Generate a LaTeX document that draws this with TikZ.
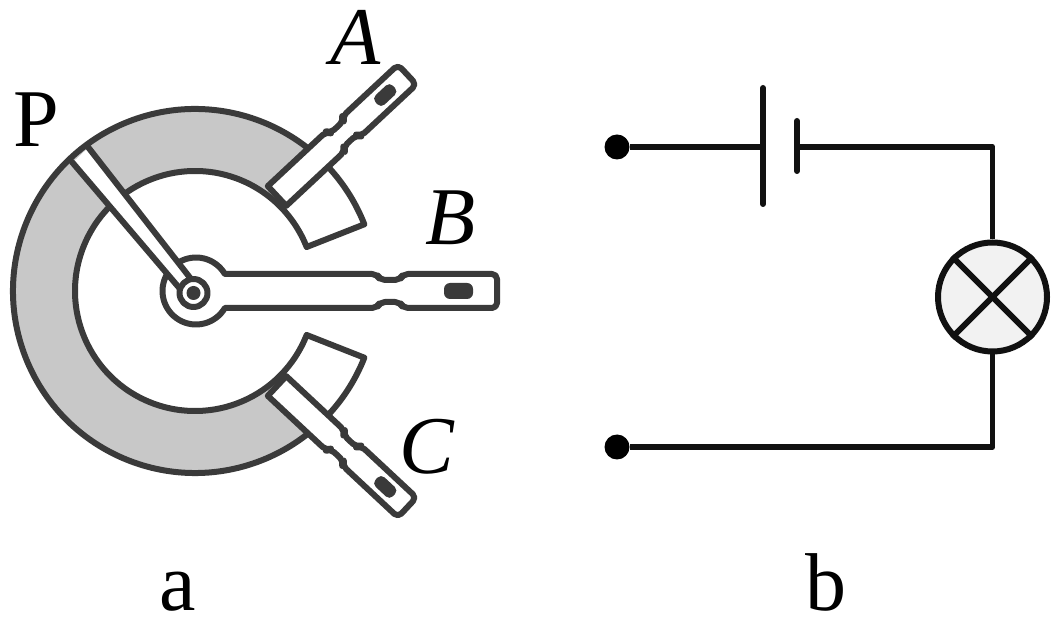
\documentclass[tikz,border=0pt]{standalone}
\usepackage{fontspec}
\setmainfont{Liberation Serif}
\definecolor{ink}{HTML}{3A3A3A}
\definecolor{wire}{HTML}{111111}
\definecolor{ringgray}{HTML}{C8C8C8}
\definecolor{lampfill}{HTML}{F2F2F2}
\tikzset{
    outline/.style={draw=ink, line width=3pt, line join=round},
    cable/.style={draw=wire, line width=2.9pt},
    plate/.style={draw=wire, line width=3pt, line cap=round},
    terminal/.style={circle, fill=black, inner sep=0pt, minimum size=12.5pt},
    lamp/.style={circle, draw=wire, fill=lampfill, line width=3pt, inner sep=0pt, minimum size=54.5pt},
    letter/.style={anchor=base, inner sep=0pt, font=\fontsize{41}{41}\selectfont},
    tab/.pic={
        \path[outline, fill=white] (0,-13.5) [rounded corners=2.5pt] -- (80,-13.5) -- (82,-9.5) -- (100,-9.5) -- (102,-13.5)
            -- (178,-13.5) -- (178,13.5) -- (102,13.5) -- (100,9.5) -- (82,9.5) -- (80,13.5) [sharp corners] -- (0,13.5) -- cycle;
        \fill[ink, rounded corners=2.5pt] (136,-6.5) rectangle (160,6.5);
    }
}
\begin{document}
\begin{tikzpicture}[x=0.5pt, y=0.5pt]
    \useasboundingbox (0,0) rectangle (1059,621);
    \def \Ro {182}
    \def \Ri {120}
    \coordinate (hub) at (195,330);
    \coordinate (boss) at (196,330);
    \coordinate (pivot) at (193.5,328);
    % ring
    \fill[ringgray] ([shift={(21.5:\Ro)}]hub) arc (21.5:338.5:\Ro) -- ([shift={(-21.5:\Ri)}]hub) arc (338.5:21.5:\Ri) -- cycle;
    \fill[white] ([shift={(21.5:\Ro)}]hub) arc (21.5:47:\Ro) -- ([shift={(47:\Ri)}]hub) arc (47:21.5:\Ri) -- cycle;
    \fill[white] ([shift={(-21.5:\Ro)}]hub) arc (-21.5:-47:\Ro) -- ([shift={(-47:\Ri)}]hub) arc (-47:-21.5:\Ri) -- cycle;
    \draw[outline] ([shift={(21.5:\Ro)}]hub) arc (21.5:338.5:\Ro) -- ([shift={(-21.5:\Ri)}]hub) arc (338.5:21.5:\Ri) -- cycle;
    % leads
    \pic[shift={(277,425)}, rotate=43] {tab};
    \pic[shift={(277,235)}, rotate=-43] {tab};
    \path[outline, fill=white] ([shift={(-30.5:33.5)}]boss) arc (-30.5:-329.5:33.5) [rounded corners=2.5pt] -- (377,347) -- (380,341) -- (400,341) -- (403,347)
        -- (497,347) -- (497,313) -- (403,313) -- (400,319) -- (380,319) -- (377,313) [sharp corners] -- cycle;
    \fill[ink, rounded corners=3pt] (444,322) rectangle (473,338);
    % slider
    \fill[white] (88,473) -- (191,342) -- (181,331) -- (72,458) -- cycle;
    \draw[outline, line cap=round] (88,474) -- (191,342);
    \draw[outline, line cap=round] (72,459) -- (181,331);
    \draw[outline, fill=white] (pivot) circle (14);
    \fill[ink] (pivot) circle (7);
    % circuit
    \node[terminal] (top) at (617,474) {};
    \node[terminal] (bottom) at (617,174) {};
    \node[lamp] (bulb) at (992.5,324) {};
    \coordinate (plateL) at (763,475);
    \coordinate (plateS) at (797,475);
    \draw[cable] (top) -- (top -| plateL);
    \draw[cable, line join=round] (top -| plateS) -- (top -| bulb) -- (bulb.north);
    \draw[cable, line join=round] (bulb.south) |- (bottom);
    \draw[plate] ([yshift=29pt]plateL) -- ([yshift=-29pt]plateL);
    \draw[plate] ([yshift=12.5pt]plateS) -- ([yshift=-12.5pt]plateS);
    \draw[cable] (bulb.45) -- (bulb.225);
    \draw[cable] (bulb.135) -- (bulb.315);
    % labels
    \node[letter] (labP) at (36,474) {P};
    \node[letter] (labA) at (356,556) {\itshape A};
    \node[letter] (labB) at (451,376) {\itshape B};
    \node[letter] (labC) at (427,148) {\itshape C};
    \node[letter] (laba) at (178,11) {a};
    \node[letter] (labb) at (826,11) {b};
\end{tikzpicture}
\end{document}
